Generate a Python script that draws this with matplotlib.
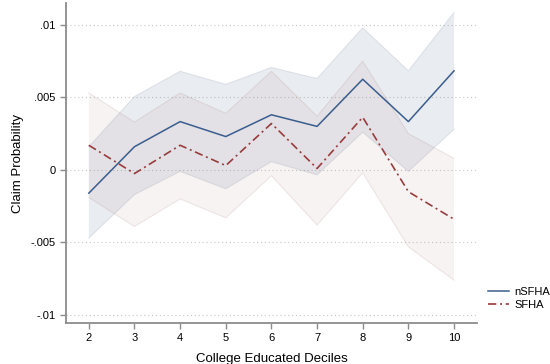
import matplotlib
matplotlib.use("Agg")
import matplotlib.pyplot as plt
from matplotlib.lines import Line2D

plt.rcParams['font.family'] = ['Liberation Sans', 'DejaVu Sans']

# College educated deciles
deciles = [2, 3, 4, 5, 6, 7, 8, 9, 10]

# Non-SFHA: point estimates and 95% CI
nsfha = [-0.0016, 0.0016, 0.00333, 0.0023, 0.0038, 0.0030, 0.00625, 0.00333, 0.00683]
nsfha_hi = [0.0016, 0.00506, 0.0068, 0.0059, 0.00706, 0.0063, 0.0098, 0.00683, 0.01085]
nsfha_lo = [-0.0047, -0.0017, -0.0001, -0.0013, 0.00057, -0.00034, 0.0026, -0.0001, 0.0028]

# SFHA: point estimates and 95% CI
sfha = [0.0017, -0.00025, 0.0017, 0.0003, 0.0032, 0.0001, 0.00363, -0.0015, -0.0034]
sfha_hi = [0.0053, 0.0033, 0.0053, 0.0039, 0.0068, 0.0037, 0.0075, 0.0025, 0.0008]
sfha_lo = [-0.0019, -0.0039, -0.0020, -0.0033, -0.0004, -0.0038, -0.0002, -0.0053, -0.0076]

yticks = [-0.01, -0.005, 0, 0.005, 0.01]
ytick_labels = ["-.01", "-.005", "0", ".005", ".01"]

blue = "#3a5d8e"
red = "#983c3c"
axis_gray = "#8c8c8c"
dashdot = (0, (5, 2.2, 1.2, 2.2))

fig = plt.figure(figsize=(5.5, 3.64), dpi=100)
ax = fig.add_axes([0.12, 0.1126, 0.747, 0.879])

# confidence bands
ax.fill_between(deciles, nsfha_lo, nsfha_hi, facecolor="#4a6a8a", alpha=0.12,
                edgecolor="none", zorder=1)
ax.plot(deciles, nsfha_lo, color="#7a8ca0", alpha=0.18, lw=0.8, zorder=1)
ax.plot(deciles, nsfha_hi, color="#7a8ca0", alpha=0.18, lw=0.8, zorder=1)
ax.fill_between(deciles, sfha_lo, sfha_hi, facecolor="#a06060", alpha=0.075,
                edgecolor="none", zorder=1)
ax.plot(deciles, sfha_lo, color="#a07070", alpha=0.15, lw=0.8, zorder=1)
ax.plot(deciles, sfha_hi, color="#a07070", alpha=0.15, lw=0.8, zorder=1)

# point estimates
ax.plot(deciles, nsfha, color=blue, lw=1.1, zorder=3)
ax.plot(deciles, sfha, color=red, lw=1.2, linestyle=dashdot, zorder=3)

ax.set_xlim(1.5, 10.5)
ax.set_ylim(-0.01055, 0.0115)
ax.set_xticks(deciles)
ax.set_yticks(yticks)
ax.set_yticklabels(ytick_labels)

for y in yticks:
    ax.axhline(y, color="#c8c8c8", lw=0.8, linestyle=(0, (1, 2.5)), zorder=0)

for side in ("top", "right"):
    ax.spines[side].set_visible(False)
for side in ("left", "bottom"):
    ax.spines[side].set_color(axis_gray)
    ax.spines[side].set_linewidth(1.3)

ax.tick_params(axis="both", colors=axis_gray, labelcolor="black", labelsize=8,
               length=4, width=1.0, direction="out")

ax.set_ylabel("Claim Probability", fontsize=9.5, labelpad=5)
ax.set_xlabel("College Educated Deciles", fontsize=9.5, labelpad=7)

handles = [Line2D([0], [0], color=blue, lw=1.1),
           Line2D([0], [0], color=red, lw=1.2, linestyle=dashdot)]
fig.legend(handles, ["nSFHA", "SFHA"], loc="center left",
           bbox_to_anchor=(0.887, 0.18), frameon=False, fontsize=8,
           handlelength=1.9, handletextpad=0.5, labelspacing=0.3,
           borderpad=0, borderaxespad=0)

fig.savefig("out.png", dpi=100)
